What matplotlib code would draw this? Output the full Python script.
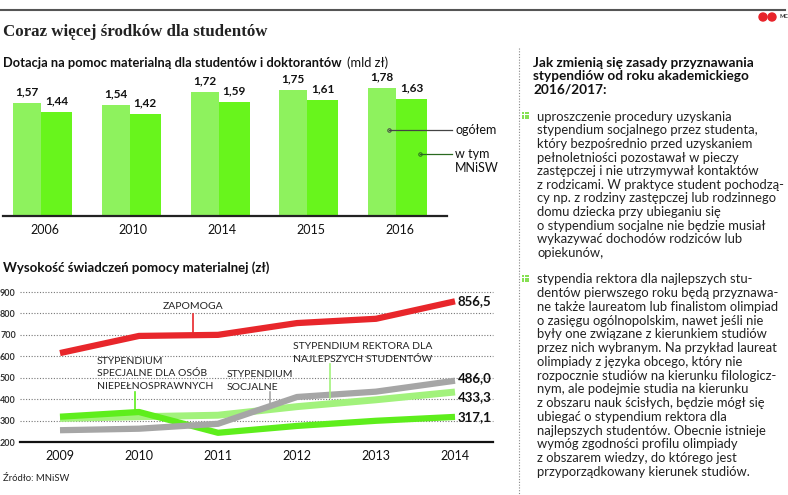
import matplotlib
matplotlib.use("Agg")
import matplotlib.pyplot as plt
from matplotlib.patches import Rectangle, Ellipse
from matplotlib.lines import Line2D

# ---------------- data ----------------
bar_years = ["2006", "2010", "2014", "2015", "2016"]
bar_total = [1.57, 1.54, 1.72, 1.75, 1.78]
bar_mnisw = [1.44, 1.42, 1.59, 1.61, 1.63]

line_years = [2009, 2010, 2011, 2012, 2013, 2014]
zapomoga = [615, 695, 700, 755, 775, 856.5]
socjalne = [255, 262, 285, 410, 435, 486.0]
rektora = [310, 318, 325, 365, 397, 433.3]
specjalne = [318, 340, 243, 275, 299, 317.1]
y_ticks = [200, 300, 400, 500, 600, 700, 800, 900]

W, H = 788, 495
SANS = ["Lato", "DejaVu Sans"]
SERIF = ["Liberation Serif", "DejaVu Serif"]

fig = plt.figure(figsize=(W / 100, H / 100), dpi=100)
fig.patch.set_facecolor("white")
renderer = fig.canvas.get_renderer()


def fx(px):
    return px / W


def fy(py):
    return 1 - py / H


def axpos(left, top, right, bottom):
    return [fx(left), fy(bottom), (right - left) / W, (bottom - top) / H]


def text_width(text, size=10, **kw):
    t = fig.text(0, 0, text, fontsize=size, **kw)
    w = t.get_window_extent(renderer).width
    t.remove()
    return w


# ---------------- header ----------------
fig.add_artist(Line2D([fx(0), fx(785)], [fy(10), fy(10)], color="#555555", lw=1.5))
fig.text(fx(3), fy(36), "Coraz więcej środków dla studentów", family=SERIF,
         weight="bold", fontsize=12.2, color="#222222", va="baseline")
for cx in (763, 772):
    fig.add_artist(Ellipse((fx(cx), fy(17)), 8 / W, 8 / H, color="#e8232a"))
fig.text(fx(780), fy(17), "MC", fontsize=4, family=SANS, weight="bold",
         va="center", color="#333333")

# ---------------- bar chart ----------------
sub = fig.text(fx(3), fy(67), "Dotacja na pomoc materialną dla studentów i doktorantów",
               family=SANS, weight="bold", fontsize=9.3, color="#111111", va="baseline")
sub_right = sub.get_window_extent(renderer).x1
fig.text((sub_right + 5) / W, fy(67), "(mld zł)", family=SANS, fontsize=9.3,
         color="#111111", va="baseline")

axb = fig.add_axes(axpos(3, 80, 447, 216))
step = 88.75
x0 = 41 - 3
axb.set_xlim(-x0 / step, (447 - 3 - x0) / step)
axb.set_ylim(0, (216 - 80) / 72.0)
idx = list(range(len(bar_years)))
lw_light = 28 / step
lw_dark = 31 / step
axb.bar(idx, bar_total, width=-lw_light, align="edge", color="#8ef25e", lw=0)
axb.bar(idx, bar_mnisw, width=lw_dark, align="edge", color="#68f51c", lw=0)
for i in idx:
    axb.annotate(f"{bar_total[i]:.2f}".replace(".", ","), (i - lw_light / 2, bar_total[i]),
                 xytext=(0, 4), textcoords="offset points", ha="center", va="bottom",
                 family=SANS, weight="bold", fontsize=8.5, color="#111111")
    axb.annotate(f"{bar_mnisw[i]:.2f}".replace(".", ","), (i + lw_dark / 2, bar_mnisw[i]),
                 xytext=(0, 4), textcoords="offset points", ha="center", va="bottom",
                 family=SANS, weight="bold", fontsize=8.5, color="#111111")
axb.set_xticks([i + 0.04 for i in idx])
axb.set_xticklabels(bar_years, family=SANS, fontsize=9, color="#111111")
axb.tick_params(axis="x", length=0, pad=6)
axb.set_yticks([])
for s in ("top", "left", "right"):
    axb.spines[s].set_visible(False)
axb.spines["bottom"].set_linewidth(1.6)
axb.spines["bottom"].set_color("#222222")
axb.patch.set_alpha(0)

# legend callouts
fig.add_artist(Line2D([fx(389), fx(452)], [fy(130), fy(130)], color="#444444", lw=0.9))
fig.add_artist(Line2D([fx(389)], [fy(130)], marker="o", ms=2.5, mfc="none",
                      mec="#444444", mew=0.7))
fig.text(fx(455), fy(130), "ogółem", family=SANS, fontsize=9, va="center", color="#111111")
fig.add_artist(Line2D([fx(420), fx(452)], [fy(154), fy(154)], color="#2a6a20", lw=0.9))
fig.add_artist(Line2D([fx(420)], [fy(154)], marker="o", ms=2.5, mfc="none",
                      mec="#2a6a20", mew=0.7))
fig.text(fx(455), fy(154), "w tym", family=SANS, fontsize=9, va="center", color="#111111")
fig.text(fx(455), fy(168), "MNiSW", family=SANS, fontsize=9, va="center", color="#111111")

# ---------------- line chart ----------------
fig.text(fx(3), fy(272), "Wysokość świadczeń pomocy materialnej (zł)", family=SANS,
         weight="bold", fontsize=9.5, color="#111111", va="baseline")

axl = fig.add_axes(axpos(20, 292, 493, 442))
pxyr = 79.0
axl.set_xlim(2009 - 40 / pxyr, 2014 + 38 / pxyr)
axl.set_ylim(200, 900)
for v in y_ticks[1:]:
    axl.axhline(v, color="#777777", lw=0.8, ls=(0, (1, 1.5)), zorder=1, clip_on=False)
axl.plot(line_years, rektora, color="#a2f27c", lw=5, zorder=2, solid_capstyle="butt")
axl.plot(line_years, specjalne, color="#5eee1c", lw=4.5, zorder=3, solid_capstyle="butt")
axl.plot(line_years, socjalne, color="#a6a6a6", lw=4.5, zorder=4, solid_capstyle="butt")
axl.plot(line_years, zapomoga, color="#e8262b", lw=4.5, zorder=5, solid_capstyle="butt")

end_offsets = [(zapomoga, 0), (socjalne, 2), (rektora, -4), (specjalne, 0)]
for series, dy in end_offsets:
    val = series[-1]
    axl.annotate(f"{val:.1f}".replace(".", ","), (line_years[-1], val), xytext=(2, dy),
                 textcoords="offset points", ha="left", va="center", family=SANS,
                 weight="bold", fontsize=9.5, color="#111111", annotation_clip=False)

axl.set_yticks(y_ticks)
axl.set_yticklabels([str(v) for v in y_ticks], family=SANS, fontsize=6.5,
                    weight="bold", color="#333333")
axl.tick_params(axis="y", length=0, pad=3)
axl.set_xticks(line_years)
axl.set_xticklabels([str(y) for y in line_years], family=SANS, fontsize=9, color="#111111")
axl.tick_params(axis="x", length=0, pad=6)
for s in ("top", "left", "right"):
    axl.spines[s].set_visible(False)
axl.spines["bottom"].set_linewidth(1.6)
axl.spines["bottom"].set_color("#111111")
axl.patch.set_alpha(0)

# series labels + pointers (figure pixel layout)
lab_kw = dict(family=SANS, fontsize=7.45, color="#222222", va="baseline")
fig.text(fx(163), fy(309), "ZAPOMOGA", **lab_kw)
fig.add_artist(Line2D([fx(193), fx(193)], [fy(314), fy(334)], color="#e8262b", lw=1.2))
for k, t in enumerate(["STYPENDIUM", "SPECJALNE DLA OSÓB", "NIEPEŁNOSPRAWNYCH"]):
    fig.text(fx(97), fy(364 + k * 12.5), t, **lab_kw)
fig.add_artist(Line2D([fx(135), fx(135)], [fy(392), fy(412)], color="#5eee1c", lw=1.2))
for k, t in enumerate(["STYPENDIUM", "SOCJALNE"]):
    fig.text(fx(227), fy(377 + k * 12.5), t, **lab_kw)
fig.add_artist(Line2D([fx(270), fx(270)], [fy(392), fy(404)], color="#a6a6a6", lw=1.2))
for k, t in enumerate(["STYPENDIUM REKTORA DLA", "NAJLEPSZYCH STUDENTÓW"]):
    fig.text(fx(293), fy(349 + k * 12.5), t, **lab_kw)
fig.add_artist(Line2D([fx(330), fx(330)], [fy(364), fy(398)], color="#a2f27c", lw=1.2))

fig.text(fx(3), fy(481), "Źródło: MNiSW", family=SANS, fontsize=6.8, color="#222222",
         va="baseline")

# ---------------- right column ----------------
fig.add_artist(Line2D([fx(519), fx(519)], [fy(48), fy(495)], color="#888888", lw=0.8,
                      ls=(0, (1, 1.5))))
heading = ["Jak zmienią się zasady przyznawania",
           "stypendiów od roku akademickiego",
           "2016/2017:"]
for k, t in enumerate(heading):
    fig.text(fx(533), fy(67 + k * 13.3), t, family=SANS, weight="bold", fontsize=9.8,
             color="#111111", va="baseline")

block1 = ["uproszczenie procedury uzyskania",
          "stypendium socjalnego przez studenta,",
          "który bezpośrednio przed uzyskaniem",
          "pełnoletniości pozostawał w pieczy",
          "zastępczej i nie utrzymywał kontaktów",
          "z rodzicami. W praktyce student pochodzą-",
          "cy np. z rodziny zastępczej lub rodzinnego",
          "domu dziecka przy ubieganiu się",
          "o stypendium socjalne nie będzie musiał",
          "wykazywać dochodów rodziców lub",
          "opiekunów,"]
block2 = ["stypendia rektora dla najlepszych stu-",
          "dentów pierwszego roku będą przyznawa-",
          "ne także laureatom lub finalistom olimpiad",
          "o zasięgu ogólnopolskim, nawet jeśli nie",
          "były one związane z kierunkiem studiów",
          "przez nich wybranym. Na przykład laureat",
          "olimpiady z języka obcego, który nie",
          "rozpocznie studiów na kierunku filologicz-",
          "nym, ale podejmie studia na kierunku",
          "z obszaru nauk ścisłych, będzie mógł się",
          "ubiegać o stypendium rektora dla",
          "najlepszych studentów. Obecnie istnieje",
          "wymóg zgodności profilu olimpiady",
          "z obszarem wiedzy, do którego jest",
          "przyporządkowany kierunek studiów."]


def bullet(cx, cy):
    for i in range(3):
        for j in range(3):
            fig.add_artist(Rectangle((fx(cx + i * 2.6), fy(cy + j * 2.6 + 2.0)), 2.0 / W, 2.0 / H,
                                     color="#86e052", lw=0))


body_x = 537
widest_w = max(text_width(s, family=SANS) for s in block1 + block2)
body_size = min(9.4, 10 * (784 - body_x) / widest_w)
body_kw = dict(family=SANS, fontsize=body_size, color="#222222", va="baseline")
for k, t in enumerate(block1):
    fig.text(fx(body_x), fy(120.7 + k * 13.6), t, **body_kw)
bullet(522, 112)
for k, t in enumerate(block2):
    fig.text(fx(body_x), fy(283.3 + k * 13.76), t, **body_kw)
bullet(522, 275)

fig.savefig("out.png", dpi=100, facecolor="white")
